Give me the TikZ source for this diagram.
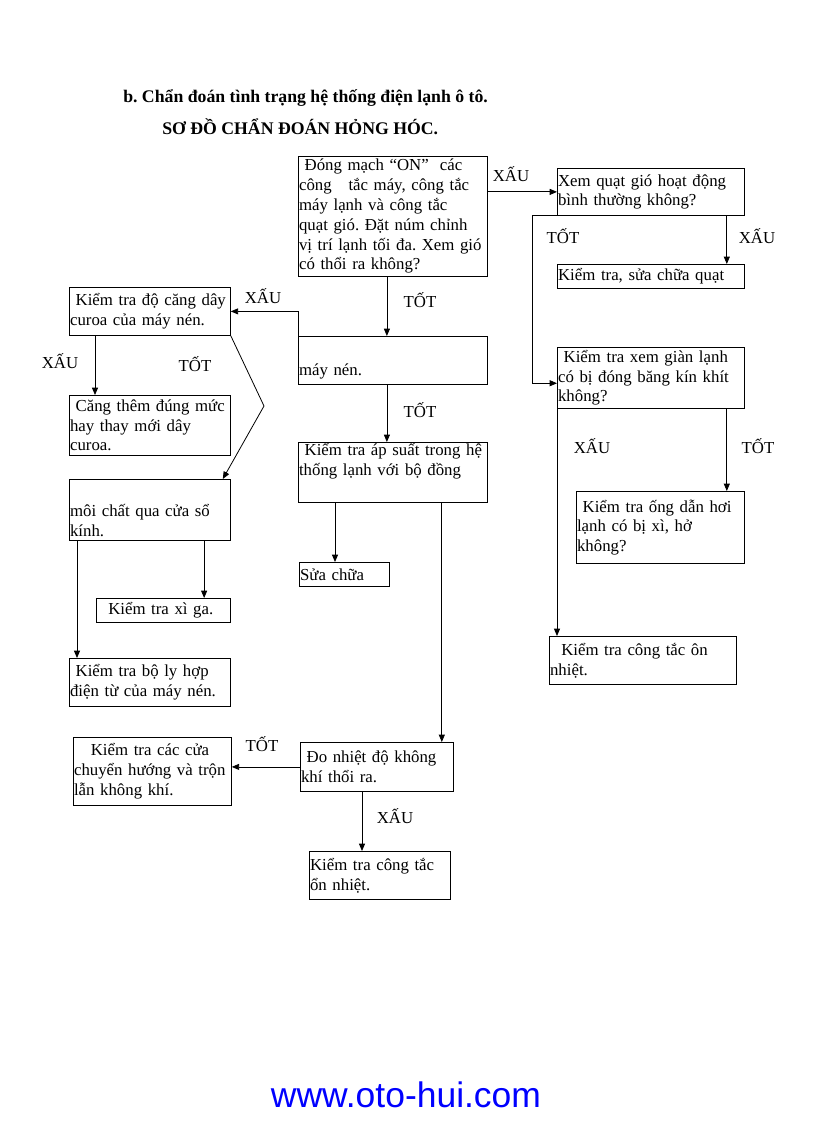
\documentclass[tikz,border=0pt]{standalone}
\usepackage{fontspec}
\setmainfont{Liberation Serif}
\setsansfont{Liberation Sans}
\usetikzlibrary{arrows.meta}
\definecolor{linkblue}{RGB}{0,0,255}
\frenchspacing

\begin{document}
\begin{tikzpicture}[x=0.75pt,y=-0.75pt,>={Triangle[length=5.5pt,width=4.5pt]},
  every node/.style={font=\fontsize{12.6}{14.85}\selectfont},
  box/.style 2 args={draw,line width=0.6pt,anchor=north west,align=left,inner xsep=0.5pt,inner ysep=0pt,
    minimum width=#1*0.75pt,minimum height=#2*0.75pt,text width=#1*0.75pt-1pt},
  heading/.style={anchor=west,inner sep=0pt,font=\fontsize{13.3}{15}\selectfont\bfseries},
  link/.style={->,line width=0.6pt}]
  \useasboundingbox (0,0) rectangle (816,1123);
  % headings
  \node[heading] (title) at (123,98) {b. Chẩn đoán tình trạng hệ thống điện lạnh ô tô.};
  \node[heading] (subtitle) at (162,127) {SƠ ĐỒ CHẨN ĐOÁN HỎNG HÓC.};
  % centre column
  \node[box={189}{120}] (start) at (298,156) {\ Đóng mạch “ON”\ \ các\\công\ \ \ tắc máy, công tắc\\máy lạnh và công tắc\\quạt gió. Đặt núm chỉnh\\vị trí lạnh tối đa. Xem gió\\có thổi ra không?};
  \node[box={189}{48}] (nen) at (298,336) {\strut\\máy nén.};
  \node[box={189}{60}] (apsuat) at (298,442) {\ Kiểm tra áp suất trong hệ\\thống lạnh với bộ đồng\\\strut};
  \node[box={90}{24}] (suachua) at (299,562) {Sửa chữa};
  \node[box={153}{49}] (donhiet) at (300,742) {\ Đo nhiệt độ không\\khí thổi ra.};
  \node[box={141}{48}] (ontac2) at (309,851) {Kiểm tra công tắc\\ổn nhiệt.};
  \node[box={158}{68}] (cuathoi) at (73,737) {\ \ \ Kiểm tra các cửa\\chuyển hướng và trộn\\lẫn không khí.};
  % right column
  \node[box={187}{47}] (quat) at (557,168) {Xem quạt gió hoạt động\\bình thường không?};
  \node[box={187}{24}] (suaquat) at (557,264) {Kiểm tra, sửa chữa quạt};
  \node[box={187}{61}] (gian) at (557,347) {\ Kiểm tra xem giàn lạnh\\có bị đóng băng kín khít\\không?};
  \node[box={168}{72}] (ong) at (576,491) {\ Kiểm tra ống dẫn hơi\\lạnh có bị xì, hở\\không?};
  \node[box={187}{48}] (ontac) at (549,636) {\ \ Kiểm tra công tắc ôn\\nhiệt.};
  % left column
  \node[box={161}{48}] (curoa) at (69,287) {\ Kiểm tra độ căng dây\\curoa của máy nén.};
  \node[box={161}{60}] (cang) at (69,395) {\ Căng thêm đúng mức\\hay thay mới dây\\curoa.};
  \node[box={161}{61}] (moichat) at (69,479) {\strut\\môi chất qua cửa sổ\\kính.};
  \node[box={134}{24}] (xiga) at (96,598) {\ \ Kiểm tra xì ga.};
  \node[box={161}{48}] (lyhop) at (69,658) {\ Kiểm tra bộ ly hợp\\điện từ của máy nén.};
  % labels
  \node (ok1) at (420,300) {TỐT};
  \node (bad1) at (511,174) {XẤU};
  \node (bad2) at (757,236) {XẤU};
  \node (ok2) at (563,236) {TỐT};
  \node (bad3) at (592,446) {XẤU};
  \node (ok3) at (758,446) {TỐT};
  \node (bad4) at (263,296) {XẤU};
  \node (ok4) at (420,410) {TỐT};
  \node (bad5) at (60,361) {XẤU};
  \node (ok5) at (195,364) {TỐT};
  \node (ok6) at (262,744) {TỐT};
  \node (bad6) at (395,816) {XẤU};
  % connectors
  \draw[link] ([xshift=-4.5pt]start.south) -- ([xshift=-4.5pt]nen.north);
  \draw[link] (quat.west -| start.east) -- (quat.west);
  \draw[link] ([xshift=-13.5pt]quat.south east) -- ([xshift=-13.5pt]suaquat.north east);
  \draw[link] (quat.south west) -- ++(-25,0) |- ([yshift=-4pt]gian.west);
  \draw[link] ([xshift=-13.5pt]gian.south east) -- ([xshift=-13.5pt]ong.north east);
  \draw[link] (gian.south west) -- (gian.south west |- ontac.north);
  \draw[link] (nen.north west) |- (curoa.east);
  \draw[link] ([xshift=-4.5pt]nen.south) -- ([xshift=-4.5pt]apsuat.north);
  \draw[link] ([xshift=19.5pt]curoa.south west) -- ([xshift=19.5pt]cang.north west);
  \coordinate (kink) at (264,406);
  \draw[link] (curoa.south east) -- (kink) -- ([xshift=-6pt]moichat.north east);
  \draw[link] ([xshift=-20pt]moichat.south east) -- ([xshift=-20pt]xiga.north east);
  \draw[link] ([xshift=6pt]moichat.south west) -- ([xshift=6pt]lyhop.north west);
  \coordinate (s1) at ([xshift=27.75pt]apsuat.south west);
  \draw[link] (s1) -- (s1 |- suachua.north);
  \coordinate (d1) at ([xshift=-9pt]donhiet.north east);
  \draw[link] (d1 |- apsuat.south) -- (d1);
  \draw[link] (donhiet.west) -- (donhiet.west -| cuathoi.east);
  \coordinate (d2) at ([xshift=46.5pt]donhiet.south west);
  \draw[link] (d2) -- (d2 |- ontac2.north);
  % footer
  \node[font=\fontsize{26.6}{30}\selectfont\sffamily,text=linkblue] (site) at (406,1095) {www.oto-hui.com};
\end{tikzpicture}
\end{document}
